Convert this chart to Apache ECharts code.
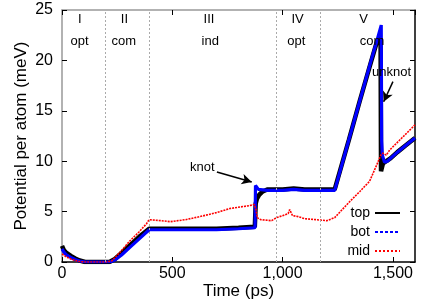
<!DOCTYPE html>
<html>
<head>
<meta charset="utf-8">
<script src="https://cdn.jsdelivr.net/npm/echarts@6/dist/echarts.min.js"></script>
<style>
html,body{margin:0;padding:0;background:#fff;}
#chart{width:436px;height:305px;}
</style>
</head>
<body>
<div id="chart"></div>
<script>
// ---- data ----
var topT = [0, 8, 20, 40, 60, 80, 105, 215, 240, 270, 310, 350, 395, 500, 600, 700, 800, 874, 878, 884, 895, 910, 930, 1000, 1050, 1100, 1170, 1236, 1300, 1350, 1400, 1428, 1444, 1446, 1455, 1470, 1490, 1520, 1560, 1600];
var topV = [1.6, 1.2, 0.9, 0.6, 0.35, 0.15, 0, 0, 0.3, 0.9, 1.7, 2.5, 3.3, 3.3, 3.3, 3.3, 3.4, 3.5, 5.8, 6.3, 6.7, 7.0, 7.2, 7.2, 7.3, 7.2, 7.2, 7.2, 12.1, 16.0, 19.8, 21.9, 22.2, 9.0, 9.8, 10.0, 10.3, 10.9, 11.6, 12.3];

var botT = [0, 8, 20, 40, 60, 80, 105, 218, 240, 270, 310, 350, 395, 500, 600, 700, 800, 875, 877, 890, 930, 1000, 1050, 1100, 1170, 1236, 1300, 1350, 1400, 1428, 1447, 1449, 1452, 1462, 1475, 1490, 1520, 1560, 1600];
var botV = [1.3, 1.0, 0.7, 0.45, 0.25, 0.1, 0, 0, 0.2, 0.7, 1.5, 2.3, 3.2, 3.2, 3.2, 3.2, 3.3, 3.4, 7.6, 7.2, 7.1, 7.1, 7.2, 7.1, 7.1, 7.1, 12.1, 16.0, 19.9, 22.0, 23.5, 12.0, 10.6, 9.9, 10.0, 10.3, 10.9, 11.6, 12.3];

var midT = [0, 20, 40, 60, 80, 100, 200, 225, 260, 308, 350, 383, 395, 450, 490, 560, 625, 700, 760, 851, 872, 878, 885, 900, 950, 972, 1000, 1025, 1032, 1045, 1070, 1100, 1150, 1200, 1236, 1300, 1350, 1394, 1426, 1445, 1455, 1470, 1485, 1540, 1600];
var midV = [0.8, 0.5, 0.3, 0.15, 0.05, 0, 0, 0.1, 0.9, 2.1, 3.0, 3.8, 4.2, 4.1, 4.0, 4.2, 4.5, 4.9, 5.3, 5.6, 5.7, 5.3, 4.4, 4.2, 4.1, 4.4, 4.6, 4.8, 5.2, 4.6, 4.5, 4.3, 4.2, 4.1, 4.4, 5.9, 7.0, 8.0, 9.6, 10.6, 10.8, 10.6, 11.1, 12.3, 13.6];

var seriesNames = ['top', 'bot', 'mid'];
var phaseBounds = [195, 395, 970, 1170];
var phaseNumerals = ['I', 'II', 'III', 'IV', 'V'];
var phaseNumeralT = [81, 283, 666, 1068, 1367];
var phaseNames = ['opt', 'com', 'ind', 'opt', 'com'];
var phaseNameT = [80, 280, 672, 1062, 1405];
var numeralY = 24.1;
var nameY = 21.9;

var knotText = {t: 636, v: 9.42};
var knotArrow = [[702, 8.93], [860, 7.94]];
var unknotText = {t: 1494, v: 18.85};
var unknotArrow = [[1500, 17.9], [1458, 15.9]];

function zip(t, v) { return t.map(function (x, i) { return [x, v[i]]; }); }

var FONT = 'Liberation Sans, Arial, Helvetica, sans-serif';

var annotPoints = [];
phaseNumerals.forEach(function (s, i) {
  annotPoints.push({name: s, coord: [phaseNumeralT[i], numeralY]});
  annotPoints.push({name: phaseNames[i], coord: [phaseNameT[i], nameY]});
});
annotPoints.push({name: 'knot', coord: [knotText.t, knotText.v]});
annotPoints.push({name: 'unknot', coord: [unknotText.t, unknotText.v]});

var hiddenSym = {opacity: 0, color: 'transparent', borderWidth: 0};

var chart = echarts.init(document.getElementById('chart'), null, {renderer: 'canvas'});
chart.setOption({
  animation: false,
  backgroundColor: '#fff',
  textStyle: {fontFamily: FONT},
  grid: {left: 62, right: 21, top: 10, bottom: 43, containLabel: false},
  legend: {
    orient: 'vertical',
    right: 30,
    top: 201,
    align: 'right',
    itemWidth: 25,
    itemHeight: 14,
    itemGap: 5,
    itemStyle: hiddenSym,
    textStyle: {fontSize: 14, color: '#000', fontFamily: FONT},
    data: [
      {name: 'top', itemStyle: hiddenSym, lineStyle: {color: '#000', width: 2, type: 'solid'}},
      {name: 'bot', itemStyle: hiddenSym, lineStyle: {color: '#0000ff', width: 2, type: [3, 2]}},
      {name: 'mid', itemStyle: hiddenSym, lineStyle: {color: '#ff0000', width: 2, type: [2, 2]}}
    ]
  },
  xAxis: [{
    type: 'value', min: 0, max: 1600, interval: 500, position: 'bottom',
    name: 'Time (ps)', nameLocation: 'middle', nameGap: 21, nameMoveOverlap: false,
    nameTextStyle: {fontSize: 17, color: '#000', fontFamily: FONT},
    axisLine: {onZero: false, lineStyle: {color: '#000', width: 1.5}},
    axisTick: {inside: true, length: 5, lineStyle: {color: '#000'}},
    axisLabel: {fontSize: 16, color: '#000', margin: 4, showMaxLabel: false, fontFamily: FONT},
    splitLine: {show: false}
  }, {
    type: 'value', min: 0, max: 1600, interval: 500, position: 'top',
    axisLine: {onZero: false, lineStyle: {color: '#999', width: 1.5}},
    axisTick: {inside: true, length: 5, lineStyle: {color: '#000'}},
    axisLabel: {show: false},
    splitLine: {show: false}
  }],
  yAxis: [{
    type: 'value', min: 0, max: 25, interval: 5, position: 'left',
    name: 'Potential per atom (meV)', nameLocation: 'middle', nameGap: 32, nameMoveOverlap: false,
    nameTextStyle: {fontSize: 17, color: '#000', fontFamily: FONT},
    axisLine: {show: true, onZero: false, lineStyle: {color: '#999', width: 1.5}},
    axisTick: {show: true, inside: true, length: 5, lineStyle: {color: '#000'}},
    axisLabel: {fontSize: 16, color: '#000', margin: 9, fontFamily: FONT},
    splitLine: {show: false}
  }, {
    type: 'value', min: 0, max: 25, interval: 5, position: 'right',
    axisLine: {show: true, onZero: false, lineStyle: {color: '#000', width: 1.5}},
    axisTick: {show: true, inside: true, length: 5, lineStyle: {color: '#000'}},
    axisLabel: {show: false},
    splitLine: {show: false}
  }],
  series: [{
    name: 'bounds', type: 'line', data: [], z: 1, silent: true,
    markLine: {
      silent: true, symbol: ['none', 'none'], label: {show: false},
      lineStyle: {color: '#aaa', type: [2, 2], width: 1},
      data: phaseBounds.map(function (x) { return {xAxis: x}; })
    }
  }, {
    name: 'top', type: 'line', data: zip(topT, topV), symbol: 'none', z: 2,
    lineStyle: {color: '#000', width: 4.5}, itemStyle: {color: '#000'}
  }, {
    name: 'bot', type: 'line', data: zip(botT, botV), symbol: 'none', z: 3,
    lineStyle: {color: '#0000ff', width: 3.2}, itemStyle: {color: '#0000ff'}
  }, {
    name: 'mid', type: 'line', data: zip(midT, midV), symbol: 'none', z: 4,
    lineStyle: {color: '#ff0000', width: 1.6, type: [2, 1]}, itemStyle: {color: '#ff0000'}
  }, {
    name: 'annot', type: 'line', data: [], z: 6, silent: true,
    markLine: {
      silent: true, symbol: ['none', 'arrow'], symbolSize: [8, 10],
      label: {show: false},
      lineStyle: {color: '#000', type: 'solid', width: 1.5},
      data: [
        [{coord: knotArrow[0]}, {coord: knotArrow[1]}],
        [{coord: unknotArrow[0]}, {coord: unknotArrow[1]}]
      ]
    },
    markPoint: {
      silent: true, symbol: 'circle', symbolSize: 0,
      itemStyle: {color: 'transparent'},
      label: {show: true, position: 'inside', formatter: '{b}', color: '#000', fontSize: 13, fontFamily: FONT},
      data: annotPoints
    }
  }]
});
</script>
</body>
</html>
